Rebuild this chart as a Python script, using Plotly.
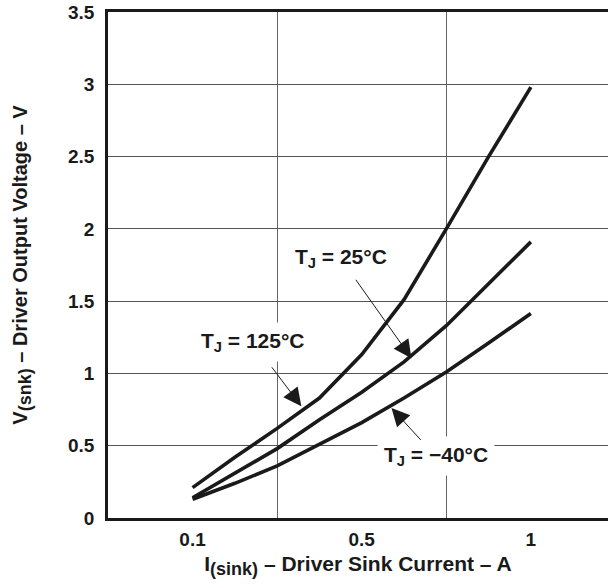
import plotly.graph_objects as go

# x positions on the chart's (non-linear) current axis: 0 -> 0.1 A, 1 -> 0.5 A, 2 -> 1 A
x_pos = [0, 0.25, 0.5, 0.75, 1.0, 1.25, 1.5, 1.75, 2.0]
tick_pos = [0, 1, 2]
tick_labels = ["0.1", "0.5", "1"]

v_125 = [0.21, 0.42, 0.62, 0.83, 1.13, 1.51, 2.00, 2.50, 2.98]
v_25 = [0.14, 0.31, 0.48, 0.68, 0.87, 1.08, 1.33, 1.62, 1.91]
v_m40 = [0.13, 0.24, 0.36, 0.51, 0.66, 0.83, 1.01, 1.21, 1.415]

y_ticks = [0, 0.5, 1, 1.5, 2, 2.5, 3, 3.5]
y_labels = ["0", "0.5", "1", "1.5", "2", "2.5", "3", "3.5"]

FONT = "Liberation Sans, Arial, sans-serif"
INK = "#1a1a1a"
line_style = dict(color=INK, width=3.6)

fig = go.Figure()
for name, v in [("TJ = 125°C", v_125), ("TJ = 25°C", v_25), ("TJ = -40°C", v_m40)]:
    fig.add_trace(go.Scatter(x=x_pos, y=v, mode="lines", line=line_style,
                             name=name, showlegend=False, hoverinfo="skip"))

def arrow(tip, tail):
    fig.add_annotation(x=tip[0], y=tip[1], ax=tail[0], ay=tail[1],
                       xref="x", yref="y", axref="x", ayref="y",
                       text="", showarrow=True, arrowhead=2, arrowsize=3.6,
                       arrowwidth=1, arrowcolor=INK, standoff=0)

labels = [
    ("T<sub>J</sub> = 25°C", 0.88, 1.80),
    ("T<sub>J</sub> = 125°C", 0.36, 1.22),
    ("T<sub>J</sub> = −40°C", 1.44, 0.426),
]
for txt, lx, ly in labels:
    fig.add_annotation(x=lx, y=ly, xref="x", yref="y", text="<b>" + txt + "</b>",
                       showarrow=False, bgcolor="white", borderpad=6,
                       font=dict(family=FONT, size=21, color=INK))

arrow((1.294, 1.105), (0.959, 1.658))
arrow((0.643, 0.773), (0.462, 1.053))
arrow((1.176, 0.761), (1.357, 0.53))

SUB = '<sub><span style="font-size:18px">%s</span></sub>'

fig.update_layout(
    width=608, height=587,
    margin=dict(l=108, r=0, t=12, b=69),
    paper_bgcolor="white", plot_bgcolor="white",
    font=dict(family=FONT, size=19, color=INK),
    xaxis=dict(
        range=[-0.5, 2.456],
        tickvals=tick_pos, ticktext=["<b>%s</b>" % t for t in tick_labels],
        showgrid=False, zeroline=False,
        showline=True, mirror=True, linecolor=INK, linewidth=2.5,
        ticks="", ticklabelstandoff=2,
        tickfont=dict(family=FONT, size=19, color=INK),
        minor=dict(tick0=0.5, dtick=1, showgrid=True, gridcolor="#666", gridwidth=1, ticks=""),
        title=dict(text="<b>I" + SUB % "(sink)" + " – Driver Sink Current – A</b>",
                   font=dict(family=FONT, size=21, color=INK), standoff=8),
    ),
    yaxis=dict(
        range=[0, 3.5],
        tickvals=y_ticks, ticktext=["<b>%s</b>" % t for t in y_labels],
        showgrid=True, gridcolor="#555", gridwidth=1, zeroline=False,
        showline=True, linecolor=INK, linewidth=2.5,
        ticks="", ticklabelstandoff=7,
        tickfont=dict(family=FONT, size=19, color=INK),
        title=dict(text="<b>V" + SUB % "(snk)" + " – Driver Output Voltage – V</b>",
                   font=dict(family=FONT, size=20, color=INK), standoff=36),
    ),
)

fig.write_html("out.html", config={"displayModeBar": False},
               post_script="document.body.style.margin='0';")
